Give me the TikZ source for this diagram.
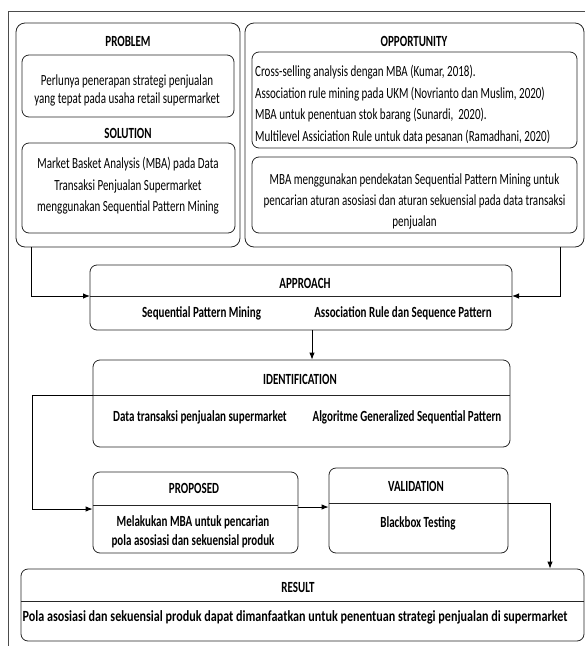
\documentclass[tikz,border=0pt]{standalone}
\usepackage{fontspec}
\usepackage{graphicx}
\setmainfont{Carlito}[FakeStretch=0.71]
\usetikzlibrary{arrows.meta}
\begin{document}
\begin{tikzpicture}[x=1pt,y=-1pt,
  frame/.style={draw=black!70,line width=0.8pt},
  box/.style={draw=black!85,line width=0.8pt,rounded corners=7pt,rectangle,inner sep=0pt},
  bigbox/.style={box,rounded corners=9pt},
  txt/.style={inner sep=0pt,font=\fontsize{15.5}{21}\selectfont},
  btxt/.style={inner sep=0pt,font=\fontsize{15.5}{21}\selectfont\bfseries},
  divline/.style={draw=black!85,line width=0.8pt},
  arr/.style={draw=black,line width=0.9pt,-{Latex[length=7pt,width=5.5pt]}}]
\useasboundingbox (0,0) rectangle (585,646);
% outer frame
\draw[frame] (590,11) -- (8.5,11) -- (8.5,650);
% big containers
\node[bigbox,minimum width=224pt,minimum height=224pt] (leftbox) at (128,135) {};
\node[bigbox,minimum width=339pt,minimum height=224pt] (rightbox) at (414.5,135) {};
% left container content
\node[btxt] (problbl) at (128,41) {PROBLEM};
\node[box,minimum width=212pt,minimum height=62pt] (probbox) at (128,86) {};
\node[txt,align=center,font=\fontsize{15.5}{17.5}\selectfont] (probtxt) at (127,90.5)
  {Perlunya penerapan strategi penjualan\\yang tepat pada usaha retail supermarket};
\node[btxt] (sollbl) at (128,133) {SOLUTION};
\node[box,minimum width=213pt,minimum height=90pt] (solbox) at (128.5,188) {};
\node[txt,align=center,font=\fontsize{15.5}{21.5}\selectfont] (soltxt) at (128,186)
  {Market Basket Analysis (MBA) pada Data\\Transaksi Penjualan Supermarket\\menggunakan Sequential Pattern Mining};
% right container content
\node[btxt] (opplbl) at (414,41) {OPPORTUNITY};
\node[box,minimum width=325pt,minimum height=96pt] (opp1box) at (414.5,100) {};
\node[txt,align=left,anchor=west,font=\fontsize{15.5}{21.7}\selectfont] (opp1txt) at (255,104.5)
  {Cross-selling analysis dengan MBA (Kumar, 2018).\\
   Association rule mining pada UKM (Novrianto dan Muslim, 2020)\\
   MBA untuk penentuan stok barang (Sunardi,~ 2020).\\
   Multilevel Assiciation Rule untuk data pesanan (Ramadhani, 2020)};
\node[box,minimum width=325pt,minimum height=76pt] (opp2box) at (414.5,195) {};
\node[txt,align=center,font=\fontsize{15.5}{21}\selectfont] (opp2txt) at (414.5,201)
  {MBA menggunakan pendekatan Sequential Pattern Mining untuk\\pencarian aturan asosiasi dan aturan sekuensial pada data transaksi\\penjualan};
% approach
\node[box,minimum width=422pt,minimum height=65pt] (approach) at (301,297.5) {};
\coordinate (apL) at (90,296);
\coordinate (apR) at (512,296);
\draw[divline] (apL) -- (apR);
\node[btxt] (aplbl) at (305,283) {APPROACH};
\node[btxt] (ap1) at (201.5,313) {Sequential Pattern Mining};
\node[btxt] (ap2) at (403,313) {Association Rule dan Sequence Pattern};
% identification
\node[box,minimum width=417pt,minimum height=87pt] (ident) at (301.5,403.5) {};
\coordinate (idL) at (93,395);
\coordinate (idR) at (510,395);
\draw[divline] (idL) -- (idR);
\node[btxt] (idlbl) at (300,379) {IDENTIFICATION};
\node[btxt] (id1) at (200,417) {Data transaksi penjualan supermarket};
\node[btxt] (id2) at (407,417) {Algoritme Generalized Sequential Pattern};
% proposed
\node[box,minimum width=205pt,minimum height=81pt] (proposed) at (195.5,512.5) {};
\coordinate (prL) at (93,505);
\coordinate (prR) at (298,505);
\draw[divline] (prL) -- (prR);
\node[btxt] (prlbl) at (194,488) {PROPOSED};
\node[btxt,align=center,font=\fontsize{15.5}{19}\selectfont\bfseries] (prtxt) at (193,531.5)
  {Melakukan MBA untuk pencarian\\pola asosiasi dan sekuensial produk};
% validation
\node[box,minimum width=179pt,minimum height=85pt] (validation) at (418.5,510.5) {};
\coordinate (vaL) at (329,503);
\coordinate (vaR) at (508,503);
\draw[divline] (vaL) -- (vaR);
\node[btxt] (valbl) at (416,486) {VALIDATION};
\node[btxt] (vatxt) at (418,523) {Blackbox Testing};
% result
\node[box,minimum width=563pt,minimum height=72pt] (result) at (302.5,605) {};
\coordinate (reL) at (21,601.5);
\coordinate (reR) at (584,601.5);
\draw[divline] (reL) -- (reR);
\node[btxt] (relbl) at (298,587) {RESULT};
\node[btxt] (retxt) at (295,617.5) {\scalebox{1.1}[1]{Pola asosiasi dan sekuensial produk dapat dimanfaatkan untuk penentuan strategi penjualan di supermarket}};
% connectors
\draw[arr] ([xshift=16pt]leftbox.south west) |- (apL);
\draw[arr] ([xshift=-24pt]rightbox.south east) |- (apR);
\draw[arr] ([xshift=11pt]approach.south) -- ([xshift=10.5pt]ident.north);
\draw[arr] (idL) -- ++(-61,0) |- ([yshift=3.5pt]proposed.west);
\draw[arr] ([yshift=5.5pt]proposed.east) -- ([yshift=5.5pt]proposed.east -| validation.west);
\draw[arr] (vaR) -| ([xshift=247.5pt]result.north);
\end{tikzpicture}
\end{document}
